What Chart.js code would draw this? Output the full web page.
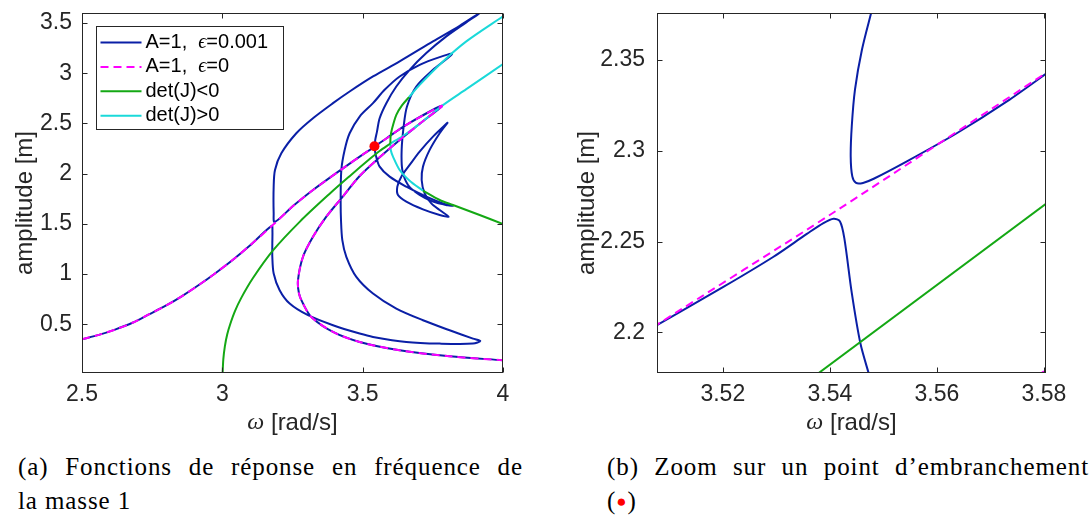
<!DOCTYPE html>
<html>
<head>
<meta charset="utf-8">
<script src="https://cdn.jsdelivr.net/npm/chart.js@4"></script>
<style>
body { margin: 0; background: #fff; width: 1089px; height: 517px; overflow: hidden; position: relative; }
canvas { position: absolute; top: 0; }
#c1 { left: 0; }
#c2 { left: 540px; }
.cap { position: absolute; font-family: "Liberation Serif", serif; font-size: 25px; letter-spacing: 0.9px; color: #000; white-space: nowrap; line-height: 33px; }
.just { text-align: justify; text-align-last: justify; }
</style>
</head>
<body>
<canvas id="c1" width="540" height="445"></canvas>
<canvas id="c2" width="549" height="445"></canvas>
<div class="cap just" style="left:18px;top:450px;width:505px">(a) Fonctions de réponse en fréquence de</div>
<div class="cap" style="left:18px;top:484px">la masse 1</div>
<div class="cap just" style="left:607px;top:450px;width:482px">(b) Zoom sur un point d’embranchement</div>
<div class="cap" style="left:607px;top:484px">(<span style="color:#f00;font-size:17px;vertical-align:2px">●</span>)</div>
<script>
// ticks
const xTicksA = [2.5, 3, 3.5, 4];
const yTicksA = [0.5, 1, 1.5, 2, 2.5, 3, 3.5];
const xTicksB = [3.52, 3.54, 3.56, 3.58];
const yTicksB = [2.2, 2.25, 2.3, 2.35];

const legendLabels = ['A=1,  ϵ=0.001', 'A=1,  ϵ=0', 'det(J)<0', 'det(J)>0'];

// (a) frequency response, [omega, amplitude]
// eps = 0
const eps0 = [[2.5,0.350],[2.56,0.394],[2.6176,0.447],[2.68,0.515],[2.7363,0.595],[2.80,0.687],[2.8551,0.778],[2.92,0.898],
  [2.9739,1.006],[3.04,1.148],[3.1045,1.30],[3.1805,1.49],
  [3.2517,1.677],[3.3230,1.837],[3.4299,2.053],[3.5077,2.2042],[3.5407,2.266],[3.5804,2.3428],[3.6555,2.486],[3.7826,2.675],
  [3.7030,2.496],[3.6318,2.336],[3.5605,2.163],[3.4893,1.977],[3.4240,1.754],[3.3705,1.571],[3.3230,1.371],[3.2874,1.172],
  [3.2696,0.939],[3.2731,0.806],[3.2874,0.706],[3.3171,0.573],[3.3943,0.4235],[3.4893,0.3237],[3.6318,0.2406],[3.8099,0.1807],[4.0,0.1408]];

// eps = 0.001, main branch
const eps1 = [[2.5,0.350],[2.56,0.394],[2.6176,0.447],[2.68,0.515],[2.7363,0.595],[2.80,0.687],[2.8551,0.778],[2.92,0.898],
  [2.9739,1.006],[3.04,1.148],[3.1045,1.30],[3.1760,1.48],
  [3.1785,1.43],[3.1781,1.30],[3.1781,1.172],[3.1829,1.006],[3.2042,0.839],[3.2399,0.706],[3.3052,0.590],[3.3943,0.490],
  [3.4893,0.407],[3.5368,0.374],[3.6555,0.324],[3.7743,0.307],[3.8931,0.307],[3.9192,0.334],
  [3.8931,0.357],[3.8099,0.440],[3.7149,0.540],[3.6199,0.656],[3.5368,0.806],[3.4774,0.972],[3.4418,1.172],[3.4275,1.338],
  [3.4228,1.538],[3.4216,1.737],[3.4240,2.037],[3.4358,2.236],[3.4536,2.4025],[3.4893,2.569],[3.5368,2.702],[3.5783,2.835],
  [3.6318,2.968],[3.7030,3.084],[3.7743,3.161],[3.8183,3.191],
  [3.7505,3.034],[3.6911,2.868],[3.6579,2.669],[3.6460,2.469],[3.6389,2.236],[3.6413,2.037],[3.6615,1.887],[3.7030,1.787],
  [3.7505,1.721],[3.8040,1.684],[3.8218,1.680],
  [3.7862,1.704],[3.7268,1.7705],[3.6555,1.870],[3.5961,1.970],[3.5605,2.070],[3.5472,2.178],[3.5441,2.222],[3.5427,2.252],
  [3.5419,2.261],[3.5407,2.2626],
  [3.5077,2.2042],[3.4299,2.053],[3.3230,1.837],[3.2517,1.677],[3.1864,1.518],
  [3.1829,1.604],[3.1829,1.870],[3.1876,2.037],[3.2102,2.203],[3.2636,2.4025],[3.3230,2.552],[3.3943,2.702],[3.4536,2.818],
  [3.5368,2.968],[3.6318,3.118],[3.7505,3.317],[3.8456,3.473],[3.9168,3.600],
  [3.8693,3.507],[3.7980,3.367],[3.7268,3.201],[3.6674,3.034],[3.6199,2.868],[3.5843,2.702],[3.5605,2.552],[3.5510,2.419],
  [3.5447,2.334],[3.5441,2.296],[3.5449,2.2823],[3.5482,2.2846],[3.5544,2.2942],[3.5804,2.3428],[3.6555,2.486],[3.7826,2.675],
  [3.7030,2.496],[3.6318,2.336],[3.5605,2.163],[3.4893,1.977],[3.4240,1.754],[3.3705,1.571],[3.3230,1.371],[3.2874,1.172],
  [3.2696,0.939],[3.2731,0.806],[3.2874,0.706],[3.3171,0.573],[3.3943,0.4235],[3.4893,0.3237],[3.6318,0.2406],[3.8099,0.1807],[4.0,0.1408]];

// eps = 0.001, closed loop
const eps1Loop = [[3.8040,2.512],[3.7505,2.369],[3.7030,2.2195],[3.6674,2.0865],[3.6377,1.970],[3.6235,1.870],[3.6258,1.787],
  [3.6555,1.721],[3.7149,1.644],[3.7743,1.588],[3.8064,1.571],[3.7743,1.6375],[3.7446,1.704],[3.7208,1.8038],[3.7102,1.9368],
  [3.7149,2.0699],[3.7387,2.2362],[3.7743,2.4025],[3.8040,2.512]];

// det(J) curves
const detNegA = [[3.001,0.0144],[3.0035,0.15],[3.0090,0.28],[3.0175,0.40],[3.0280,0.50],[3.0450,0.63],[3.0670,0.76],
  [3.1092,0.96],[3.1805,1.235],[3.2755,1.52],[3.3824,1.80],[3.4536,1.975],[3.5249,2.145],[3.5604,2.225],[3.5985,2.30]];
const detNegB = [[3.5985,2.30],[3.5995,2.37],[3.6040,2.44],[3.6199,2.5855],[3.6400,2.68],[3.6650,2.7617]];
const detNegC = [[3.7149,1.830],[3.7743,1.7373],[3.8218,1.6874],[3.9168,1.5876],[4.0,1.4978]];
const detPosA = [[3.6650,2.7617],[3.7030,2.8847],[3.7862,3.1176],[3.8693,3.3171],[4.0,3.5666]];
const detPosB = [[3.5985,2.30],[3.6436,2.375],[3.7030,2.4956],[3.7826,2.6752],[3.8693,2.8415],[4.0,3.091]];
const detPosC = [[3.5985,2.30],[3.6005,2.23],[3.6080,2.17],[3.6318,2.0366],[3.6674,1.930],[3.7149,1.830]];

const branchPt = [[3.542, 2.273]];

// (b) zoom
const eps0Zoom = [[3.5070,2.2029],[3.5407,2.2660],[3.5810,2.3440]];
const eps0ZoomLow = [[3.5788,2.1760],[3.5812,2.1810]];
const eps1ZoomLow = [[3.5070,2.2028],[3.5201,2.2250],[3.5294,2.2415],[3.5357,2.2542],[3.5388,2.2602],[3.5407,2.2626],
  [3.5419,2.2611],[3.5427,2.2520],[3.5441,2.2217],[3.5457,2.1941],[3.5474,2.1760]];
const eps1ZoomUp = [[3.5479,2.3780],[3.5460,2.3557],[3.5447,2.3337],[3.5441,2.3135],[3.5439,2.2969],[3.5442,2.2859],
  [3.5449,2.2823],[3.5462,2.2823],[3.5482,2.2846],[3.5544,2.2942],[3.5638,2.3098],[3.5731,2.3272],[3.5810,2.3437]];
const detNegZoom = [[3.5372,2.1760],[3.5810,2.2722]];

const axisColor = '#262626';
const sans = '"Liberation Sans", Arial, sans-serif';
const serif = '"Liberation Serif", "DejaVu Serif", serif';
const blue = '#0a1fa6', magenta = '#ff00ff', green = '#14a814', cyan = '#1ad9d9';

function mixed(ctx, text, x, y, size, align) {
  const parts = [];
  for (const ch of text) {
    const g = /[\u03b1-\u03c9\u03f5]/.test(ch);
    const last = parts[parts.length - 1];
    if (last && last.g === g) last.s += ch; else parts.push({ s: ch, g });
  }
  let w = 0;
  parts.forEach(p => {
    ctx.font = p.g ? 'italic ' + size + 'px ' + serif : size + 'px ' + sans;
    p.w = ctx.measureText(p.s).width;
    w += p.w;
  });
  let cx = align === 'center' ? x - w / 2 : x;
  ctx.textAlign = 'left';
  ctx.textBaseline = 'middle';
  parts.forEach(p => {
    ctx.font = p.g ? 'italic ' + size + 'px ' + serif : size + 'px ' + sans;
    ctx.fillText(p.s, cx, y);
    cx += p.w;
  });
}

function drawLegend(ctx) {
  const L = 96.5, T = 26.5, W = 187, H = 103;
  const styles = [[blue, []], [magenta, [8, 5]], [green, []], [cyan, []]];
  ctx.save();
  ctx.fillStyle = '#fff';
  ctx.fillRect(L, T, W, H);
  ctx.strokeStyle = axisColor;
  ctx.lineWidth = 1;
  ctx.strokeRect(L, T, W, H);
  legendLabels.forEach((lab, i) => {
    const yy = T + 16 + i * 24.4;
    ctx.strokeStyle = styles[i][0];
    ctx.lineWidth = 2;
    ctx.setLineDash(styles[i][1]);
    ctx.beginPath();
    ctx.moveTo(L + 4, yy);
    ctx.lineTo(L + 45, yy);
    ctx.stroke();
    ctx.setLineDash([]);
    ctx.fillStyle = '#000';
    mixed(ctx, lab, L + 49, yy, 20, 'left');
  });
  ctx.restore();
}

const boxAxes = {
  id: 'boxAxes',
  afterDatasetsDraw(chart, args, o) {
    const { ctx, chartArea: a } = chart;
    const xs = chart.scales.x, ys = chart.scales.y;
    const L = Math.round(a.left) + 0.5, R = Math.round(a.right) - 0.5;
    const T = Math.round(a.top) + 0.5, B = Math.round(a.bottom) - 0.5;
    ctx.save();
    ctx.strokeStyle = axisColor;
    ctx.lineWidth = 1;
    ctx.strokeRect(L, T, R - L, B - T);
    ctx.beginPath();
    xs.ticks.forEach(t => {
      const p = Math.round(xs.getPixelForValue(t.value)) + 0.5;
      ctx.moveTo(p, B); ctx.lineTo(p, B - 5);
      ctx.moveTo(p, T); ctx.lineTo(p, T + 5);
    });
    ys.ticks.forEach(t => {
      const p = Math.round(ys.getPixelForValue(t.value)) + 0.5;
      ctx.moveTo(L, p); ctx.lineTo(L + 5, p);
      ctx.moveTo(R, p); ctx.lineTo(R - 5, p);
    });
    ctx.stroke();
    ctx.fillStyle = axisColor;
    mixed(ctx, 'ω [rad/s]', (a.left + a.right) / 2, o.xTitleY, 24, 'center');
    ctx.translate(o.yTitleX, o.yTitleY);
    ctx.rotate(-Math.PI / 2);
    mixed(ctx, 'amplitude [m]', 0, 0, 24, 'center');
    ctx.restore();
    if (o.legend) drawLegend(ctx);
  }
};

const line = (pts, color, extra) => Object.assign({
  data: pts.map(([x, y]) => ({ x, y })),
  showLine: true, borderColor: color, borderWidth: 2, pointRadius: 0, tension: 0.3, fill: false
}, extra || {});

function makeChart(id, datasets, xr, yr, xt, yt, g) {
  return new Chart(document.getElementById(id), {
    type: 'scatter',
    data: { datasets },
    options: {
      responsive: false,
      animation: false,
      events: [],
      layout: { padding: { left: 0, top: 13, right: g.right, bottom: 0 } },
      plugins: {
        legend: { display: false },
        tooltip: { enabled: false },
        boxAxes: { xTitleY: 423, yTitleX: g.yTitleX, yTitleY: 203, legend: g.legend }
      },
      scales: {
        x: {
          type: 'linear', min: xr[0], max: xr[1],
          grid: { display: false, drawTicks: false },
          border: { display: false },
          ticks: { color: axisColor, font: { family: sans, size: 23, lineHeight: 1 }, padding: 10, maxRotation: 0, callback: v => String(v) },
          afterBuildTicks: s => { s.ticks = xt.map(v => ({ value: v })); },
          afterFit: s => { s.height = 72; s.paddingLeft = 0; s.paddingRight = 0; }
        },
        y: {
          type: 'linear', min: yr[0], max: yr[1],
          grid: { display: false, drawTicks: false },
          border: { display: false },
          ticks: { color: axisColor, font: { family: sans, size: 23, lineHeight: 1 }, padding: g.tickPad, callback: v => String(v) },
          afterBuildTicks: s => { s.ticks = yt.map(v => ({ value: v })); },
          afterFit: s => { s.width = g.left; s.paddingTop = 0; s.paddingBottom = 0; }
        }
      }
    },
    plugins: [boxAxes]
  });
}

makeChart('c1', [
  line(branchPt, '#f00', { showLine: false, pointRadius: 5, pointBackgroundColor: '#f00', pointBorderWidth: 0, order: 0 }),
  line(eps0, magenta, { borderDash: [8, 5], order: 1 }),
  line(detNegA, green, { order: 2 }),
  line(detNegB, green, { order: 2 }),
  line(detNegC, green, { order: 2 }),
  line(detPosA, cyan, { order: 2 }),
  line(detPosB, cyan, { order: 2 }),
  line(detPosC, cyan, { order: 2 }),
  line(eps1, blue, { order: 3 }),
  line(eps1Loop, blue, { order: 3 })
], [2.5, 4], [0.0144, 3.6], xTicksA, yTicksA, { left: 82, right: 37, tickPad: 10, yTitleX: 25, legend: true });

makeChart('c2', [
  line(eps0Zoom, magenta, { borderDash: [8, 5], order: 1 }),
  line(eps0ZoomLow, magenta, { borderDash: [8, 5], order: 1, tension: 0 }),
  line(detNegZoom, green, { order: 2, tension: 0 }),
  line(eps1ZoomLow, blue, { order: 3 }),
  line(eps1ZoomUp, blue, { order: 3 })
], [3.5077, 3.5804], [2.1776, 2.3759], xTicksB, yTicksB, { left: 117, right: 43, tickPad: 12, yTitleX: 47, legend: false });
</script>
</body>
</html>
